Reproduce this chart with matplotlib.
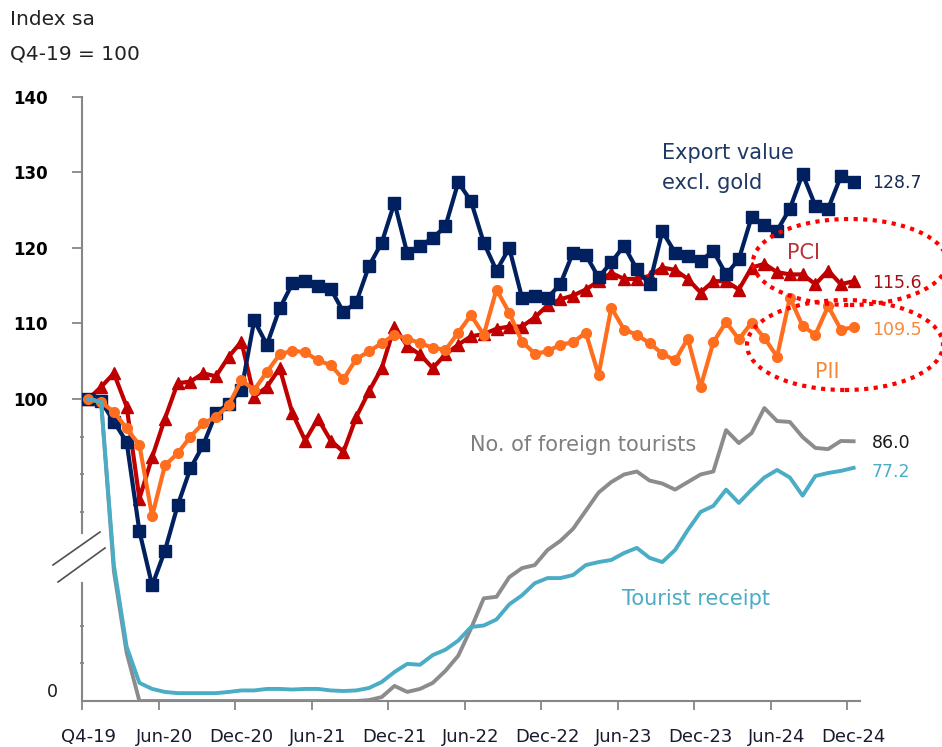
import matplotlib
matplotlib.use("Agg")
import matplotlib.pyplot as plt
from matplotlib.patches import Ellipse
from matplotlib.lines import Line2D
import numpy as np

# ---------------- data (Dec-19/Q4-19 ... Dec-24, monthly) ----------------
tick_labels = ["Q4-19", "Jun-20", "Dec-20", "Jun-21", "Dec-21", "Jun-22",
               "Dec-22", "Jun-23", "Dec-23", "Jun-24", "Dec-24"]

export = [100.0, 99.7, 97.0, 94.3, 82.5, 75.3, 79.9, 85.9, 90.8, 93.9,
          98.1, 99.4, 101.2, 110.4, 107.2, 112.0, 115.3, 115.6, 115.0, 114.6,
          111.5, 112.8, 117.6, 120.7, 126.0, 119.3, 120.3, 121.3, 122.9, 128.7,
          126.2, 120.7, 117.0, 120.0, 113.4, 113.6, 113.4, 115.2, 119.4, 119.1,
          116.1, 118.1, 120.3, 117.2, 115.2, 122.2, 119.4, 119.0, 118.3, 119.6,
          116.5, 118.5, 124.1, 123.1, 122.3, 125.2, 129.8, 125.6, 125.2, 129.5,
          128.7]

pci = [100.0, 101.6, 103.4, 99.0, 86.8, 92.3, 97.4, 102.1, 102.3, 103.4,
       103.0, 105.6, 107.6, 100.3, 101.6, 104.1, 98.1, 94.5, 97.4, 94.5,
       93.0, 97.6, 101.0, 104.1, 109.6, 107.0, 105.9, 104.1, 105.9, 107.2,
       108.3, 108.6, 109.3, 109.6, 109.6, 110.8, 112.4, 113.2, 113.7, 114.5,
       115.6, 116.7, 115.9, 115.9, 116.3, 117.4, 117.1, 115.9, 114.1, 115.6,
       115.6, 114.5, 117.4, 117.9, 116.8, 116.5, 116.5, 115.2, 117.0, 115.2,
       115.6]

pii = [100.0, 99.6, 98.3, 96.1, 93.9, 84.5, 91.2, 92.8, 95.0, 96.8,
       97.6, 99.2, 102.5, 101.2, 103.6, 105.9, 106.4, 106.2, 105.1, 104.5,
       102.6, 105.3, 106.3, 107.4, 108.5, 108.0, 107.4, 106.8, 106.5, 108.8,
       111.1, 108.5, 114.5, 111.4, 107.6, 106.0, 106.3, 107.2, 107.5, 108.8,
       103.2, 112.1, 109.2, 108.5, 107.4, 106.0, 105.1, 108.0, 101.6, 107.5,
       110.2, 107.9, 110.1, 108.1, 105.6, 113.4, 109.7, 108.5, 112.3, 109.2,
       109.5]

receipts = [100.0, 99.0, 45.0, 18.0, 6.0, 4.0, 3.0, 2.6, 2.6, 2.6,
            2.6, 3.0, 3.5, 3.5, 4.0, 4.0, 3.8, 4.0, 4.0, 3.5,
            3.3, 3.5, 4.3, 6.3, 9.6, 12.3, 12.0, 15.2, 17.0, 20.0,
            24.5, 25.0, 27.0, 32.0, 35.0, 39.0, 40.7, 40.7, 41.7, 45.0,
            46.0, 46.7, 49.0, 50.7, 47.4, 46.0, 50.0, 56.6, 62.6, 64.6,
            70.0, 65.6, 70.0, 74.0, 76.5, 74.0, 68.0, 74.5, 75.5, 76.2,
            77.2]

arrivals = [100.0, 99.0, 43.0, 16.0, 0.0, 0.0, 0.0, 0.0, 0.0, 0.0,
            0.0, 0.0, 0.0, 0.0, 0.0, 0.0, 0.0, 0.0, 0.0, 0.0,
            0.0, 0.0, 0.3, 1.3, 5.0, 3.0, 4.0, 6.0, 10.0, 15.0,
            24.0, 34.0, 34.5, 41.0, 44.0, 45.0, 50.0, 53.0, 57.0, 63.0,
            69.0, 72.5, 75.0, 76.0, 73.0, 72.0, 70.0, 72.5, 75.0, 76.0,
            89.7, 85.4, 88.7, 97.0, 92.7, 92.4, 87.4, 83.8, 83.4, 86.1,
            86.0]

# ---------------- figure ----------------
W, H = 942, 747
fig = plt.figure(figsize=(W / 100, H / 100), dpi=100)


def fx(px):
    return px / W


def fy(py):
    return 1 - py / H


NAVY = "#002060"
RED = "#C00000"
ORANGE = "#FF6D1F"
CYAN = "#4BACC6"
GREY = "#8C8C8C"
AXGREY = "#868686"

ax = fig.add_axes([fx(82), fy(701), 778 / W, 604 / H])
ax2 = ax.twinx()

x = np.arange(len(export))
ax.plot(x, pci, color=RED, lw=3, marker="^", ms=9, zorder=3)
ax.plot(x, export, color=NAVY, lw=3, marker="s", ms=8, zorder=4)
ax.plot(x, pii, color=ORANGE, lw=3, marker="o", ms=7, zorder=5)
ax2.plot(x, arrivals, color=GREY, lw=2.8, solid_joinstyle="round")
ax2.plot(x, receipts, color=CYAN, lw=2.8, solid_joinstyle="round")

ax.set_xlim(-0.5, 60.5)
ax.set_ylim(60, 140)
ax2.set_ylim(0, 200)

# x axis: tick marks at category edges, labels at category centres
ax.set_xticks(np.arange(-0.5, 60, 6))
ax.set_xticklabels([])
ax.set_xticks(np.arange(0, 61, 6), minor=True)
ax.set_xticklabels(tick_labels, minor=True)
ax.tick_params(axis="x", which="major", length=6.5, width=1.3, color=AXGREY)
ax.tick_params(axis="x", which="minor", length=0, pad=19.5, labelsize=13,
               labelcolor="#1a1a2e")

# y axis
ax.set_yticks([100, 110, 120, 130, 140])
ax.set_yticklabels(["100", "110", "120", "130", "140"], fontweight="bold")
ax.set_yticks([65, 70, 85, 90, 95], minor=True)
ax.tick_params(axis="y", which="major", length=7.2, width=1.3, color=AXGREY,
               pad=17.3, labelsize=12)
ax.tick_params(axis="y", which="minor", length=3, width=1.3, color=AXGREY,
               direction="inout")

for s in ("top", "right"):
    ax.spines[s].set_visible(False)
ax.spines["left"].set_color(AXGREY)
ax.spines["left"].set_linewidth(1.5)
ax.spines["left"].set_bounds(100 - (533 - 399) / 7.55, 140)
ax.spines["bottom"].set_color(AXGREY)
ax.spines["bottom"].set_linewidth(1.5)

for s in ("top", "right", "bottom"):
    ax2.spines[s].set_visible(False)
ax2.spines["left"].set_visible(True)
ax2.spines["left"].set_color(AXGREY)
ax2.spines["left"].set_linewidth(1.5)
ax2.spines["left"].set_bounds(0, (701 - 583) / 3.02)
ax2.set_yticks([])

# axis break marks
for (x0, y0, x1, y1) in [(53, 565, 100, 532), (58, 582, 105, 548)]:
    fig.add_artist(Line2D([fx(x0), fx(x1)], [fy(y0), fy(y1)],
                          transform=fig.transFigure, color="#505050", lw=1.2))

# texts
fig.text(fx(52), fy(692), "0", ha="center", va="center", fontsize=12.5,
         color="#1a1a1a")
fig.text(fx(10), fy(25), "Index sa", fontsize=14.5, color="#222222",
         va="baseline")
fig.text(fx(10), fy(59), "Q4-19 = 100", fontsize=14.5, color="#222222",
         va="baseline")

fig.text(fx(662), fy(159), "Export value", fontsize=15, color="#1F3864",
         va="baseline")
fig.text(fx(662), fy(189), "excl. gold", fontsize=15, color="#1F3864",
         va="baseline")
fig.text(fx(872), fy(188), "128.7", fontsize=12.5, color="#1a2a50",
         va="baseline")
fig.text(fx(787), fy(259), "PCI", fontsize=15, color="#B8333A", va="baseline")
fig.text(fx(872), fy(288), "115.6", fontsize=12.5, color="#A50F15",
         va="baseline")
fig.text(fx(872), fy(335), "109.5", fontsize=12.5, color="#F58A3C",
         va="baseline")
fig.text(fx(815), fy(378), "PII", fontsize=15, color="#F58A3C", va="baseline")
fig.text(fx(872), fy(448), "86.0", fontsize=12.5, color="#1a1a1a",
         va="baseline")
fig.text(fx(872), fy(477), "77.2", fontsize=12.5, color=CYAN, va="baseline")
fig.text(fx(470), fy(451), "No. of foreign tourists", fontsize=15,
         color="#7F7F7F", va="baseline")
fig.text(fx(622), fy(605), "Tourist receipt", fontsize=15, color=CYAN,
         va="baseline")

# dotted highlight ellipses
for (cx, cy, w, h) in [(850, 262, 194, 86), (845, 345, 196, 90)]:
    fig.add_artist(Ellipse((fx(cx), fy(cy)), w / W, h / H,
                           transform=fig.transFigure, fill=False,
                           edgecolor="#FF0000", lw=3, ls=(0, (1, 1.3))))

fig.savefig("out.png", dpi=100)
